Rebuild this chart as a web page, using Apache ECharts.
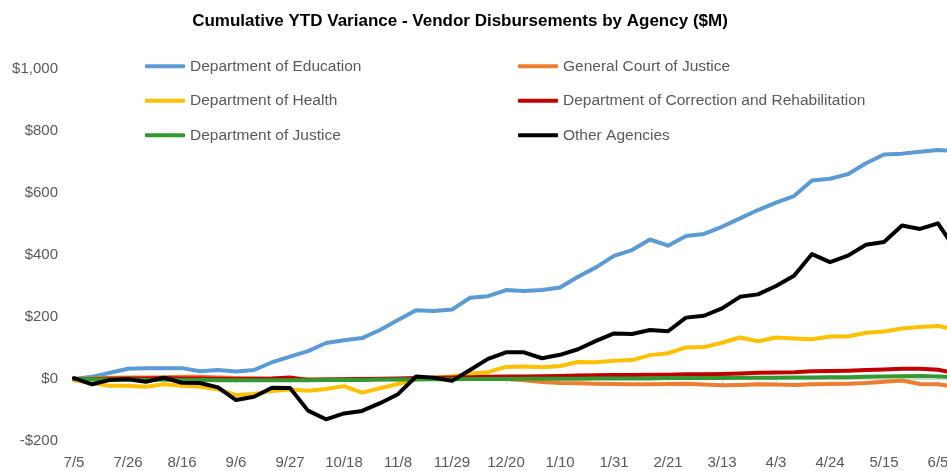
<!DOCTYPE html>
<html lang="en">
<head>
    <meta charset="UTF-8">
    <title>Cumulative YTD Variance</title>
    <script src="https://cdn.jsdelivr.net/npm/echarts@6/dist/echarts.min.js"></script>
    <style>
        html, body {
            margin: 0;
            padding: 0;
            background: #fff;
        }
        #main {
            width: 947px;
            height: 471px;
        }
    </style>
</head>
<body>
<div id="main"></div>
<script>
    // weekly dates, fiscal year starting 7/5
    var weeks = ['7/5', '7/12', '7/19', '7/26', '8/2', '8/9', '8/16', '8/23', '8/30', '9/6',
        '9/13', '9/20', '9/27', '10/4', '10/11', '10/18', '10/25', '11/1', '11/8', '11/15',
        '11/22', '11/29', '12/6', '12/13', '12/20', '12/27', '1/3', '1/10', '1/17', '1/24',
        '1/31', '2/7', '2/14', '2/21', '2/28', '3/6', '3/13', '3/20', '3/27', '4/3',
        '4/10', '4/17', '4/24', '5/1', '5/8', '5/15', '5/22', '5/29', '6/5', '6/12'];

    var education = [0, 7, 20, 33, 35, 35, 35, 25, 29, 24, 29, 54, 72, 90, 116, 125, 132, 158, 190, 222,
        219, 224, 262, 267, 287, 284, 287, 295, 330, 360, 397, 416, 450, 430, 461, 468, 491, 518, 545, 569,
        590, 640, 646, 661, 696, 724, 727, 733, 739, 735];
    var court = [0, 2, 4, 5, 5, 6, 7, 7, 5, 3, 2, 1, 0, -1, -2, -2, -2, -1, -1, 0,
        1, 2, 2, 1, 0, -4, -10, -13, -14, -15, -16, -17, -17, -16, -15, -18, -20, -19, -17, -18,
        -19, -17, -16, -15, -13, -9, -5, -16, -17, -25];
    var health = [-3, -14, -22, -22, -25, -17, -22, -25, -33, -52, -48, -39, -34, -38, -32, -23, -44, -30, -16, -1,
        4, 8, 18, 22, 39, 40, 38, 42, 55, 54, 59, 61, 77, 83, 102, 103, 117, 134, 122, 134,
        131, 128, 137, 137, 149, 153, 163, 168, 171, 160];
    var correction = [0, 0, 1, 2, 2, 3, 2, 2, 1, 0, 1, 2, 5, -3, -2, -1, 0, 1, 2, 3,
        4, 5, 6, 7, 8, 8, 9, 10, 11, 12, 13, 13, 14, 14, 15, 15, 16, 18, 20, 21,
        22, 25, 26, 27, 29, 31, 33, 33, 30, 18];
    var justice = [0, -1, -2, -2, -3, -2, -3, -3, -4, -4, -4, -4, -4, -4, -3, -3, -3, -2, -2, -2,
        -1, -1, 0, 0, 0, 1, 1, 1, 1, 2, 2, 2, 2, 3, 3, 3, 3, 4, 4, 4,
        5, 5, 6, 6, 7, 8, 9, 10, 8, 6];
    var other = [3, -17, -3, -1, -9, 4, -12, -13, -27, -68, -57, -28, -29, -102, -130, -111, -103, -78, -49, 8,
        4, -6, 29, 65, 86, 86, 67, 78, 96, 123, 147, 145, 158, 154, 198, 204, 228, 265, 273, 300,
        333, 403, 377, 398, 433, 442, 495, 484, 502, 415];

    var names = ['Department of Education', 'General Court of Justice', 'Department of Health',
        'Department of Correction and Rehabilitation', 'Department of Justice', 'Other Agencies'];
    var colors = ['#5B9BD5', '#ED7D31', '#FFC000', '#C00000', '#339933', '#000000'];
    var values = [education, court, health, correction, justice, other];

    var font = 'Liberation Sans, Arial, sans-serif';
    var grey = '#595959';

    var series = names.map(function (n, i) {
        return {
            name: n,
            type: 'line',
            data: values[i],
            symbol: 'none',
            smooth: false,
            xAxisIndex: 0,
            lineStyle: {width: 4, color: colors[i], join: 'round', cap: 'round'},
            itemStyle: {color: colors[i]},
            emphasis: {disabled: true}
        };
    });

    var legendCommon = {
        orient: 'vertical',
        icon: 'roundRect',
        itemWidth: 40,
        itemHeight: 4,
        itemGap: 18,
        itemTextGap: 2,
        padding: 0,
        textStyle: {fontFamily: font, fontSize: 15.5, color: grey, lineHeight: 16.5},
        selectedMode: false
    };

    var chart = echarts.init(document.getElementById('main'));
    var option = {
        animation: false,
        color: colors,
        title: {
            text: 'Cumulative YTD Variance - Vendor Disbursements by Agency ($M)',
            left: 455,
            textAlign: 'center',
            top: 8,
            textStyle: {fontFamily: font, fontSize: 17, fontWeight: 'bold', color: '#000'}
        },
        legend: [
            Object.assign({}, legendCommon, {left: 145, top: 58, data: [names[0], names[2], names[4]]}),
            Object.assign({}, legendCommon, {left: 518, top: 58, data: [names[1], names[3], names[5]]})
        ],
        grid: {left: 74, top: 69, width: 882, bottom: 30, containLabel: false, outerBoundsMode: 'none'},
        xAxis: [
            {
                type: 'category',
                data: weeks,
                boundaryGap: false,
                axisLine: {onZero: true, lineStyle: {color: '#D9D9D9', width: 1}},
                axisTick: {show: true, interval: 2, length: 5, lineStyle: {color: '#D9D9D9'}},
                axisLabel: {show: false},
                splitLine: {show: false}
            },
            {
                type: 'category',
                data: weeks,
                boundaryGap: false,
                position: 'bottom',
                axisLine: {show: false, onZero: false},
                axisTick: {show: false},
                axisLabel: {interval: 2, margin: 14, fontFamily: font, fontSize: 15, color: grey},
                splitLine: {show: false}
            }
        ],
        yAxis: {
            type: 'value',
            min: -200,
            max: 1000,
            interval: 200,
            axisLine: {show: false},
            axisTick: {show: false},
            splitLine: {show: false},
            axisLabel: {
                margin: 16,
                fontFamily: font,
                fontSize: 15,
                color: grey,
                formatter: function (v) {
                    var s = '$' + Math.abs(v).toLocaleString('en-US');
                    return v < 0 ? '-' + s : s;
                }
            }
        },
        series: series
    };
    chart.setOption(option);
</script>
</body>
</html>
